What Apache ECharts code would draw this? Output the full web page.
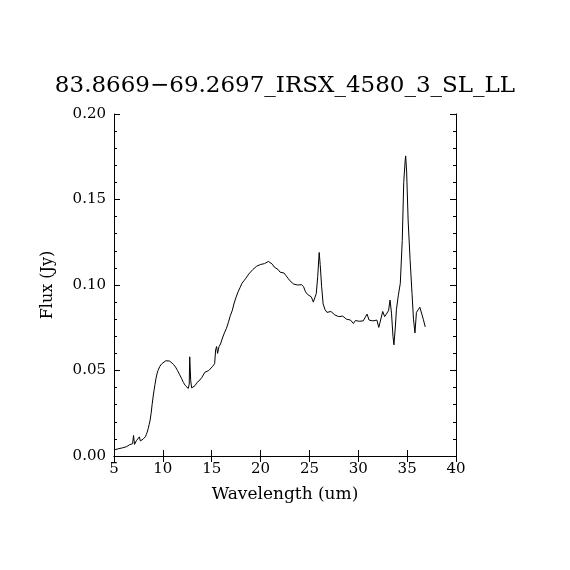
<!DOCTYPE html>
<html><head><meta charset="utf-8">
<script src="https://cdn.jsdelivr.net/npm/echarts@6/dist/echarts.min.js"></script>
<style>html,body{margin:0;padding:0;background:#fff}#c{width:570px;height:570px}</style>
</head><body><div id="c"></div>
<script>
const titleText = "83.8669\u221269.2697_IRSX_4580_3_SL_LL";
const xLabel = "Wavelength (um)";
const yLabel = "Flux (Jy)";
const wavelength = [5.1,5.3,5.5,5.7,5.9,6.1,6.3,6.5,6.6,6.7,6.8,6.9,7.0,7.1,7.2,7.3,7.4,7.5,7.6,7.7,7.8,7.9,8.0,8.1,8.2,8.3,8.4,8.5,8.6,8.7,8.8,8.9,9.0,9.1,9.2,9.3,9.4,9.5,9.7,9.9,10.1,10.3,10.5,10.7,10.9,11.1,11.3,11.5,11.7,11.9,12.1,12.3,12.5,12.6,12.7,12.75,12.85,12.95,13.1,13.3,13.5,13.6,13.7,13.8,13.9,14.0,14.2,14.3,14.5,14.7,14.9,15.1,15.3,15.4,15.5,15.6,15.75,15.9,16.1,16.3,16.5,16.7,16.9,17.1,17.3,17.5,17.7,17.9,18.1,18.3,18.5,18.6,18.8,19.0,19.2,19.4,19.6,19.8,20.0,20.2,20.4,20.6,20.8,21.0,21.2,21.4,21.6,21.8,22.0,22.2,22.4,22.6,22.8,23.0,23.2,23.4,23.6,23.8,24.0,24.2,24.4,24.6,24.8,25.0,25.2,25.4,25.5,25.7,25.85,26.0,26.1,26.25,26.4,26.6,26.8,27.0,27.2,27.4,27.6,27.8,28.0,28.2,28.4,28.6,28.8,29.0,29.2,29.4,29.5,29.7,29.9,30.1,30.3,30.5,30.7,30.9,31.1,31.3,31.5,31.7,31.9,32.1,32.3,32.5,32.7,32.9,33.1,33.25,33.4,33.55,33.65,33.8,33.9,34.1,34.3,34.5,34.65,34.8,34.85,34.95,35.1,35.3,35.5,35.65,35.8,35.95,36.1,36.3,36.5,36.65,36.85];
const flux = [.0037,.0040,.0043,.0045,.0048,.0050,.0055,.0052,.0066,.0058,.0060,.0072,.0120,.0068,.0075,.0090,.0080,.0085,.0112,.0088,.0090,.0095,.0100,.0108,.0112,.0125,.0140,.0160,.0185,.0210,.0250,.0300,.0345,.0385,.0420,.0455,.0480,.0500,.0525,.0540,.0550,.0557,.0558,.0555,.0548,.0535,.0520,.0500,.0478,.0455,.0430,.0412,.0405,.0395,.0420,.0580,.0440,.0398,.0405,.0412,.0430,.0420,.0440,.0445,.0435,.0460,.0470,.0490,.0480,.0500,.0510,.0525,.0540,.0620,.0640,.0600,.0640,.0655,.0690,.0720,.0745,.0780,.0820,.0850,.0895,.0930,.0960,.0985,.1010,.1025,.1040,.1030,.1065,.1075,.1090,.1095,.1110,.1105,.1120,.1118,.1125,.1132,.1138,.1128,.1122,.1105,.1108,.1090,.1075,.1082,.1070,.1055,.1040,.1025,.1020,.1005,.0995,.1000,.0990,.1002,.0990,.0960,.0945,.0935,.0930,.0900,.0910,.0950,.1050,.1190,.1120,.0990,.0890,.0855,.0840,.0830,.0845,.0835,.0825,.0820,.0815,.0812,.0818,.0810,.0800,.0808,.0795,.0785,.0775,.0792,.0795,.0788,.0798,.0790,.0800,.0830,.0795,.0790,.0790,.0785,.0795,.0752,.0760,.0845,.0815,.0805,.0850,.0912,.0835,.0700,.0650,.0760,.0855,.0940,.1010,.1260,.1600,.1730,.1755,.1660,.1380,.1150,.0950,.0800,.0720,.0840,.0850,.0870,.0830,.0800,.0755];
const xMin = 5, xMax = 40, xStep = 5;
const yMin = 0, yMax = 0.20, yStep = 0.05;

const FONT = "DejaVu Serif";
const chart = echarts.init(document.getElementById('c'), null, {renderer:'canvas'});
const xCommon = {
  axisLine:{show:true,lineStyle:{color:'#000',width:1}},
  axisTick:{show:true,inside:true,length:6,lineStyle:{color:'#000'}},
  minorTick:{show:false},
  splitLine:{show:false}
};
const yCommon = {
  axisLine:{show:true,lineStyle:{color:'#000',width:1}},
  axisTick:{show:true,inside:true,length:6,lineStyle:{color:'#000'}},
  minorTick:{show:true,splitNumber:5,length:3,lineStyle:{color:'#000'}},
  splitLine:{show:false}
};
chart.setOption({
  animation:false,
  backgroundColor:'#fff',
  title:{text:titleText,left:'center',top:70,textStyle:{fontFamily:FONT,fontWeight:'normal',fontSize:23,color:'#000'}},
  grid:{left:114,right:114,top:114,bottom:114,containLabel:false},
  xAxis:[
    Object.assign({type:'value',min:xMin,max:xMax,interval:xStep,position:'bottom',
      name:xLabel,nameLocation:'middle',nameGap:30,
      nameTextStyle:{fontFamily:FONT,fontSize:17,color:'#000'},
      axisLabel:{fontFamily:FONT,fontSize:15,color:'#000',margin:6}},xCommon),
    Object.assign({type:'value',min:xMin,max:xMax,interval:xStep,position:'top',axisLabel:{show:false}},xCommon)
  ],
  yAxis:[
    Object.assign({type:'value',min:yMin,max:yMax,interval:yStep,position:'left',
      name:yLabel,nameLocation:'middle',nameGap:58,
      nameTextStyle:{fontFamily:FONT,fontSize:16,color:'#000'},
      axisLabel:{fontFamily:FONT,fontSize:15,color:'#000',margin:8,formatter:v=>v.toFixed(2)}},yCommon),
    Object.assign({type:'value',min:yMin,max:yMax,interval:yStep,position:'right',axisLabel:{show:false}},yCommon)
  ],
  series:[{type:'line',data:wavelength.map((x,i)=>[x,flux[i]]),showSymbol:false,symbol:'none',
    lineStyle:{color:'#000',width:1},xAxisIndex:0,yAxisIndex:0}]
});
</script></body></html>
